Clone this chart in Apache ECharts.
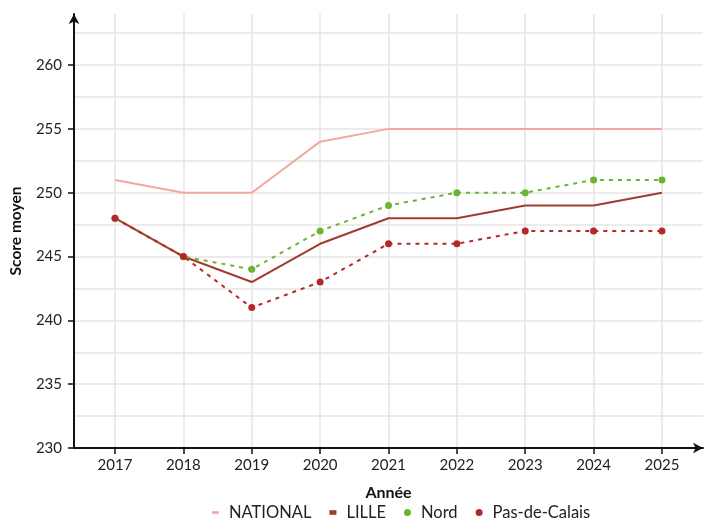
<!DOCTYPE html>
<html>
<head>
<meta charset="utf-8">
<script src="https://cdn.jsdelivr.net/npm/echarts@6/dist/echarts.min.js"></script>
<style>
  html, body { margin: 0; padding: 0; background: #fff; }
  #main { width: 709px; height: 518px; }
</style>
</head>
<body>
<div id="main"></div>
<script>
// données
var annees = [2017, 2018, 2019, 2020, 2021, 2022, 2023, 2024, 2025];
var national = [251, 250, 250, 254, 255, 255, 255, 255, 255];
var lille = [248, 245, 243, 246, 248, 248, 249, 249, 250];
var nord = [248, 245, 244, 247, 249, 250, 250, 251, 251];
var pasDeCalais = [248, 245, 241, 243, 246, 246, 247, 247, 247];
var yLabels = [230, 235, 240, 245, 250, 255, 260];
var yGrid = [230, 232.5, 235, 237.5, 240, 242.5, 245, 247.5, 250, 252.5, 255, 257.5, 260, 262.5];

function paires(vals) {
    return annees.map(function (a, i) { return [a, vals[i]]; });
}

var police = 'Lato';
var myChart = echarts.init(document.getElementById('main'));

var option = {
    animation: false,
    textStyle: { fontFamily: police },
    grid: { left: 73, right: 6, top: 14, bottom: 70 },
    legend: {
        top: 499,
        left: 207,
        itemWidth: 7,
        itemHeight: 7,
        itemGap: 18,
        symbolKeepAspect: true,
        textStyle: { fontSize: 16.5, color: '#222', fontFamily: police, padding: [0, 0, 0, 5] },
        data: [
            { name: 'NATIONAL', icon: 'path://M0,0H8V3H0Z', itemStyle: { color: '#f4a7a1' } },
            { name: 'LILLE', icon: 'path://M0,0H6V4H0Z', itemStyle: { color: '#a33a2f' } },
            { name: 'Nord', icon: 'circle' },
            { name: 'Pas-de-Calais', icon: 'circle' }
        ]
    },
    xAxis: {
        type: 'value',
        min: 2016.4,
        max: 2025.6,
        name: 'Année',
        nameLocation: 'middle',
        nameGap: 37,
        nameTextStyle: { fontWeight: 'bold', fontSize: 16, color: '#111' },
        axisLine: { lineStyle: { color: '#111', width: 2 }, symbol: ['none', 'arrow'], symbolSize: [8, 10] },
        axisTick: { show: true, length: 6, customValues: annees, lineStyle: { color: '#111', width: 1.5 } },
        axisLabel: { customValues: annees, fontSize: 15, color: '#222', margin: 10, formatter: function (v) { return String(v); } },
        splitLine: { show: true, lineStyle: { color: '#e4e4e4', width: 1.5 } }
    },
    yAxis: [{
        type: 'value',
        min: 230,
        max: 264,
        name: 'Score moyen',
        nameLocation: 'middle',
        nameGap: 50,
        nameTextStyle: { fontWeight: 'bold', fontSize: 15.5, color: '#111' },
        axisLine: { show: true, lineStyle: { color: '#111', width: 2 }, symbol: ['none', 'arrow'], symbolSize: [8, 10] },
        axisTick: { show: false, customValues: yGrid },
        axisLabel: { customValues: yLabels, fontSize: 15, color: '#222', margin: 12 },
        splitLine: { show: true, lineStyle: { color: '#e4e4e4', width: 1.5 } }
    }, {
        type: 'value',
        position: 'left',
        min: 230,
        max: 264,
        axisLine: { show: false },
        axisTick: { show: true, length: 6, customValues: yLabels, lineStyle: { color: '#111', width: 1.5 } },
        axisLabel: { show: false },
        splitLine: { show: false }
    }],
    series: [
        {
            name: 'NATIONAL',
            type: 'line',
            data: paires(national),
            symbol: 'none',
            lineStyle: { color: '#f4a7a1', width: 2 },
            itemStyle: { color: '#f4a7a1' }
        },
        {
            name: 'LILLE',
            type: 'line',
            data: paires(lille),
            symbol: 'none',
            lineStyle: { color: '#a33a2f', width: 2 },
            itemStyle: { color: '#a33a2f' }
        },
        {
            name: 'Nord',
            type: 'line',
            data: paires(nord),
            symbol: 'circle',
            symbolSize: 7,
            lineStyle: { color: '#6db42f', width: 2, type: [4, 5] },
            itemStyle: { color: '#6db42f' }
        },
        {
            name: 'Pas-de-Calais',
            type: 'line',
            data: paires(pasDeCalais),
            symbol: 'circle',
            symbolSize: 7,
            lineStyle: { color: '#b5282a', width: 2, type: [4, 5] },
            itemStyle: { color: '#b5282a' }
        }
    ]
};

myChart.setOption(option);
</script>
</body>
</html>
